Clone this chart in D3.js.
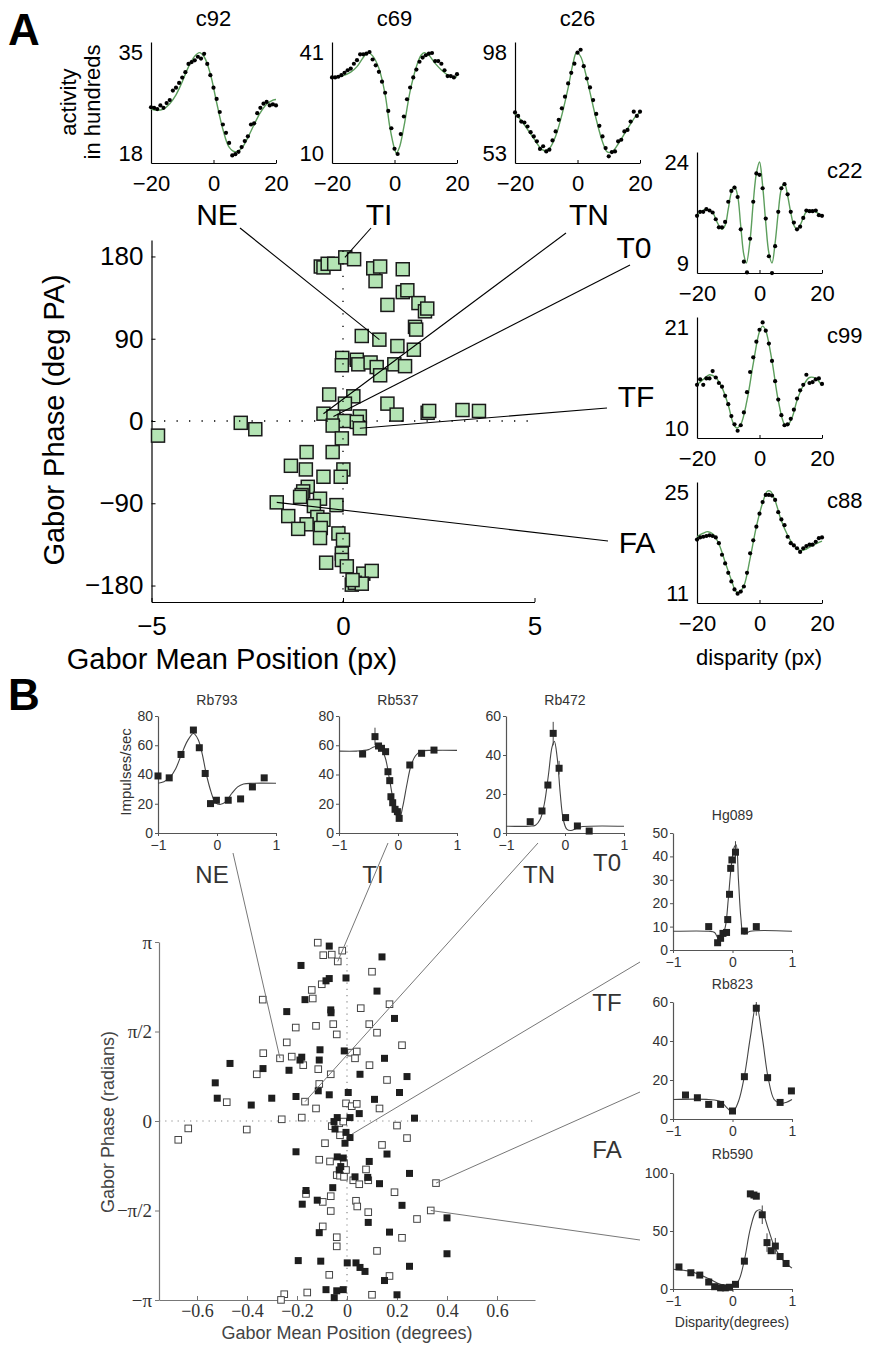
<!DOCTYPE html>
<html>
<head>
<meta charset="utf-8">
<script src="https://cdn.jsdelivr.net/npm/d3@7"></script>
<style>
  body { margin: 0; background: #fff; }
</style>
</head>
<body>
<svg id="fig" width="870" height="1349"></svg>
<script>
// ---------------- data : panel A tuning curves ----------------
const dispA = [-20,-19,-18,-17,-16,-15,-14,-13,-12,-11,-10,-9,-8,-7,-6,-5,-4,-3,-2,-1,0,1,2,3,4,5,6,7,8,9,10,11,12,13,14,15,16,17,18,19,20];

const c92Dots = [25.7,25.6,25.4,26.0,25.6,26.4,26.9,28.5,29.0,29.8,30.7,31.6,33.0,33.3,33.6,34.2,33.9,34.7,33.0,31.1,29.0,27.1,24.9,22.8,21.4,19.7,17.6,17.8,18.2,19.0,20.0,20.8,22.8,23.0,24.7,25.6,26.3,26.6,26.0,26.2,26.0];
const c92Fit = [[-20,25.4],[-18,25.2],[-16,25.4],[-14,26.3],[-12,27.8],[-10,30],[-8,32.5],[-6,34.3],[-4.5,34.9],[-3,34.2],[-1,31.3],[1,26.5],[3,22],[5,19],[7,18.2],[9,18.8],[11,20.6],[13,22.8],[15,24.8],[17,26.2],[19,26.9],[20,27]];

const c69Dots = [33.2,33.2,33.4,33.9,34.6,35.4,35.9,37.4,38.5,40.3,40.3,40.5,41.0,38.7,36.9,34.9,31.9,28.5,22.9,17.6,11.3,9.7,15.8,21.2,26.5,30.1,33.2,35.6,38.0,39.3,40.0,40.5,40.7,38.2,38.2,37.4,35.4,33.6,33.6,33.2,34.2];
const c69Fit = [[-20,33.2],[-17,33.5],[-14,34.8],[-12,36.5],[-10,39.3],[-8.5,40.8],[-7,39.8],[-5,36],[-3,28],[-1.5,18],[0,11.3],[0.6,10],[1.5,11.5],[3,18],[5,29],[7,36.5],[8.5,40],[9.5,40.8],[11,40],[13,37.5],[15,35.5],[17,34],[19,33.3],[20,33.4]];

const c26Dots = [71.1,69.5,67.0,66.6,64.8,62.3,60.4,58.2,54.8,56.0,53.7,54.5,58.6,62.6,67.8,72.9,78.1,84.0,88.7,92.8,97.7,99.0,91.7,86.2,82.2,76.6,70.4,65.1,60.4,55.2,51.5,53.4,53.7,58.2,58.9,62.6,63.3,67.0,71.4,69.5,71.4];
const c26Fit = [[-20,70.5],[-18,67.5],[-16,63.5],[-14,59.5],[-12,55.5],[-10.5,54],[-9,55],[-7,60.5],[-5,70],[-3,82],[-1.5,92.5],[-0.3,97.8],[1,96],[2.5,89],[4,80],[6,68],[8,58],[9.5,53.5],[11,53.5],[13,57],[15,61.5],[17,66],[19,70],[20,71]];

const c22Dots = [16.0,16.6,16.6,17.0,16.8,16.5,15.5,14.3,14.3,15.1,18.1,19.7,20.2,18.8,14.0,9.2,7.6,12.6,18.1,22.3,22.1,20.1,15.6,10.0,7.5,11.5,16.6,20.1,20.7,19.2,16.6,15.0,14.0,14.4,15.7,16.8,16.7,16.7,16.8,16.1,16.0];
const c22Fit = [[-20,16],[-19,16.5],[-17,17],[-15,16.5],[-13.5,15],[-12,14],[-11,14.6],[-10,17],[-9,19.5],[-8,20.4],[-7,19],[-6,14.5],[-5,10.2],[-4.2,9],[-3,12.5],[-2,18],[-1,22.3],[0,24],[1,20.5],[2,15],[3,10.5],[4,9],[5,12],[6,16.5],[7,20],[8,20.8],[9,19],[10,16.5],[11,14.6],[12,14],[13,14.6],[14,15.7],[15,16.6],[17,16.8],[19,16.3],[20,16]];

const c99Dots = [14.7,15.3,14.7,15.4,15.4,16.2,15.5,14.9,14.5,13.5,12.6,11.3,10.4,9.7,10.3,11.7,13.9,16.1,17.7,19.4,20.7,21.5,20.6,19.2,17.3,15.1,13.1,11.4,10.3,10.4,11.0,12.0,13.2,14.1,14.7,15.8,14.9,15.0,15.3,15.4,14.8];
const c99Fit = [[-20,14.7],[-18,15.3],[-16,15.8],[-14,15.5],[-12,14.4],[-10,12.5],[-8.5,10.6],[-7.3,10],[-6,10.4],[-4,13],[-2,17],[0,20.5],[1,21.1],[2,20.6],[4,17.3],[6,13],[8,10.4],[9,10.3],[10.5,11.2],[12,13],[14,14.6],[16,15.5],[18,15.4],[20,14.6]];

const c88Dots = [18.4,18.7,18.8,18.9,19.0,18.9,18.7,17.9,16.3,15.1,13.8,12.6,11.5,10.9,11.2,11.9,13.8,16.5,18.3,20.2,22.0,23.6,24.6,24.6,24.5,23.9,22.2,21.2,20.4,18.8,17.9,17.6,17.2,16.7,17.2,17.5,17.7,17.7,18.1,18.6,18.7];
const c88Fit = [[-20,18.8],[-18,19.3],[-16.5,19.5],[-15,19.2],[-13,17.8],[-11,15.3],[-9,12.8],[-7.5,11.2],[-6.5,11.1],[-5,12],[-3,15.8],[-1,20.2],[1,23.5],[2.5,25.1],[3.5,25.1],[5,23.8],[7,21],[9,19],[11,17.6],[13,16.9],[15,17.1],[17,17.6],[20,18.2]];

// ---------------- data : panel A scatter (px, deg) ----------------
const posA = [-4.83,-2.67,-2.29,-0.58,-0.51,-0.40,-0.23,0.06,-0.02,-0.03,-0.36,-0.51,-0.25,0.04,-0.27,-0.03,-0.95,-0.27,-1.36,-0.97,0.01,-0.06,-0.51,-0.92,-1.04,-1.08,-1.12,-1.73,-0.60,-0.76,-0.17,-1.43,-0.67,-0.51,-0.95,-1.17,-0.58,-0.60,-0.12,0.00,-0.03,-0.03,-0.44,0.10,0.23,
  0.29,0.79,0.97,0.85,1.56,1.56,1.68,1.16,1.97,2.14,2.20,1.88,1.91,0.49,0.95,1.42,1.85,0.36,0.40,0.72,0.88,0.97,1.34,1.62,0.27,0.05,1.16,1.40,2.21,2.25,3.12,3.55,0.44,0.36,0.44,0.53,0.75,0.31,0.49,0.25];
const phaseA = [-16,-2,-9,169,168,172,172,179,69,61,29,8,5,0,-5,-19,-34,-34,-49,-53,-53,-61,-61,-72,-77,-81,-83,-89,-85,-93,-92,-104,-105,-108,-113,-118,-117,-128,-123,-130,-145,-152,-155,-159,-179,
  177,167,169,153,166,141,143,127,129,120,123,103,100,93,89,82,78,67,62,64,59,50,62,60,27,19,19,7,9,11,12,11,5,-1,-8,-167,-164,-177,-178,-174];

const calloutNames = ["NE","TI","TN","T0","TF","FA"];
const calloutTargetsA = [[0.95,89],[0.05,179],[-0.51,8],[-0.25,5],[0.44,-8],[-1.73,-89]];

// ---------------- data : panel B tuning curves ----------------
const rb793Pts = [[-1,39],[-0.81,37.7],[-0.61,53.7],[-0.40,70.4],[-0.30,58.3],[-0.20,40.7],[-0.11,20.1],[-0.01,22.4],[0.19,22.4],[0.40,23.3],[0.60,31.5],[0.80,37.7]];
const rb793Fit = [[-1,34],[-0.9,35],[-0.8,38],[-0.7,44],[-0.6,54],[-0.5,63],[-0.4,68],[-0.32,64],[-0.25,54],[-0.18,40],[-0.1,28],[-0.03,21],[0.05,19.5],[0.15,21.5],[0.25,27],[0.35,31.5],[0.45,33.5],[0.6,34],[1,34]];
const rb793Err = [];

const rb537Pts = [[-0.6,54],[-0.39,65.9],[-0.33,59.5],[-0.28,57.9],[-0.21,55.6],[-0.17,41.9],[-0.14,35.8],[-0.12,24.8],[-0.09,20.7],[-0.05,16.2],[-0.01,14.6],[0.02,10],[0.2,46.5],[0.4,54.5],[0.61,56.7]];
const rb537Fit = [[-1,56],[-0.7,56],[-0.5,57],[-0.4,59],[-0.3,58],[-0.22,52],[-0.15,38],[-0.08,22],[-0.02,11],[0.02,9],[0.08,18],[0.15,33],[0.22,46],[0.3,53],[0.4,56],[0.6,56.5],[1,56.5]];
const rb537Err = [[-0.39,60,72]];

const rb472Pts = [[-0.59,5.8],[-0.39,11.3],[-0.29,24.6],[-0.2,51.1],[-0.1,33.2],[0.01,7.9],[0.21,3.6],[0.41,1]];
const rb472Fit = [[-1,3.5],[-0.6,3.5],[-0.5,4],[-0.42,7],[-0.35,15],[-0.28,30],[-0.22,44],[-0.18,47],[-0.13,38],[-0.08,20],[-0.03,7],[0.03,2],[0.1,1.3],[0.2,2.5],[0.3,3.3],[1,3.5]];
const rb472Err = [[-0.2,45,57],[-0.1,30,37]];

const hg089Pts = [[-0.40,10.0],[-0.25,3.1],[-0.2,5],[-0.16,7.1],[-0.1,7.5],[-0.08,13],[-0.05,23.8],[-0.03,34.9],[-0.01,38.5],[0.05,41.8],[0.2,8.1],[0.4,10]];
const hg089Fit = [[-1,8],[-0.4,8],[-0.3,7.5],[-0.24,5],[-0.18,5.5],[-0.12,10],[-0.07,22],[-0.02,36],[0.03,44],[0.06,45],[0.1,30],[0.14,14],[0.18,7],[0.22,7],[0.3,8],[1,8]];
const hg089Err = [[0.05,37,46.5]];

const rb823Pts = [[-0.79,12.3],[-0.59,10.9],[-0.4,7.5],[-0.2,7.5],[0,4.1],[0.2,21.7],[0.4,56.8],[0.59,21.2],[0.8,8.5],[0.99,14.4]];
const rb823Fit = [[-1,10],[-0.4,10],[-0.2,9],[-0.1,6],[0,3.5],[0.1,9],[0.2,22],[0.3,42],[0.4,59],[0.5,42],[0.6,21],[0.7,10],[0.8,8],[0.9,8.5],[1,10]];
const rb823Err = [[0.4,53,60]];

const rb590Pts = [[-0.9,19],[-0.7,14],[-0.55,12],[-0.4,6],[-0.3,2],[-0.2,1],[-0.12,1],[-0.05,1.5],[0.05,4],[0.2,24],[0.3,82],[0.36,81],[0.4,80],[0.5,64],[0.58,40],[0.65,33],[0.72,37],[0.8,28],[0.9,22]];
const rb590Fit = [[-1,17],[-0.7,15],[-0.4,9],[-0.2,4],[0,2.5],[0.1,7],[0.2,25],[0.3,52],[0.4,67],[0.48,68],[0.6,52],[0.7,37],[0.8,28],[0.9,22],[1,18]];
const rb590Err = [[0.5,56,72],[0.58,32,48],[0.72,30,44]];

// ---------------- data : panel B scatter (degrees, radians) ----------------
const openB = [[-0.117,3.13],[-0.095,2.91],[-0.061,2.92],[-0.019,2.99],[-0.037,2.80],[-0.101,2.40],[-0.141,2.30],[-0.137,2.15],[-0.337,2.13],[0.055,1.98],[0.089,1.70],[-0.205,1.64],[-0.124,1.67],[-0.055,1.70],[-0.041,1.52],[-0.241,1.38],[0.016,1.20],[0.039,1.22],[0.032,1.10],[-0.221,1.13],[-0.268,1.10],[-0.175,0.98],[-0.335,1.19],[-0.115,0.91],[-0.361,0.82],[-0.065,0.82],[-0.111,0.65],[-0.481,0.33],[-0.168,0.34],[-0.124,0.22],[-0.004,0.31],[0.019,0.26],[0.039,0.30],[-0.261,0.03],[-0.181,0.06],[-0.635,-0.13],[-0.675,-0.33],[-0.401,-0.15],[-0.061,-0.09],[-0.031,-0.04],[-0.015,-0.01],[-0.028,-0.25],[-0.088,-0.39],[-0.111,-0.68],[-0.068,-0.71],[-0.012,-0.74],[-0.004,-0.86],[-0.041,-0.95],[-0.028,-0.96],[-0.012,-0.98],[0.025,-1.04],[0.049,-1.11],[0.076,-0.85],[0.085,-1.04],[-0.164,-1.28],[-0.097,-1.42],[-0.065,-1.32],[-0.065,-1.58],[0.036,-1.40],[0.041,-1.50],[0.085,-1.60],[-0.097,-1.85],[-0.041,-2.04],[-0.041,-2.20],[-0.071,-2.70],[-0.159,-3.01],[-0.251,-3.04],[-0.264,-3.14],
  [0.10,2.62],[0.17,2.05],[0.12,1.55],[0.22,1.33],[0.09,0.98],[0.16,0.72],[0.13,0.22],[0.20,-0.08],[0.14,-0.42],[0.24,-0.30],[0.356,-1.09],[0.335,-1.57],[0.28,-1.72],[0.19,-1.25],[0.12,-2.28],[0.22,-2.05],[0.17,-2.72],[0.10,-3.05]];
const filledB = [[-0.071,3.07],[-0.184,2.73],[-0.004,2.51],[-0.071,2.50],[-0.084,2.46],[-0.168,2.13],[-0.241,1.92],[-0.065,1.95],[-0.064,1.90],[-0.011,1.23],[-0.108,1.25],[-0.181,1.12],[-0.188,1.07],[-0.111,1.07],[-0.468,1.01],[-0.336,0.92],[-0.232,0.89],[0.052,0.82],[-0.115,0.53],[-0.071,0.46],[-0.527,0.67],[-0.519,0.40],[-0.383,0.28],[-0.301,0.40],[-0.204,0.43],[0.005,0.50],[0.049,0.13],[-0.039,0.06],[0.012,0.06],[-0.052,-0.01],[-0.048,-0.14],[-0.004,-0.20],[0.012,-0.29],[-0.008,-0.39],[-0.204,-0.54],[-0.039,-0.63],[-0.015,-0.65],[-0.025,-0.80],[-0.031,-0.86],[0.032,-0.98],[0.083,-0.99],[0.089,-0.71],[-0.057,-1.17],[-0.164,-1.22],[-0.119,-1.39],[-0.179,-1.46],[0.085,-1.78],[-0.111,-1.96],[-0.195,-2.45],[-0.105,-2.46],[0.001,-2.49],[0.036,-2.49],[0.052,-2.57],[0.072,-2.64],[-0.084,-2.96],[-0.041,-2.98],[-0.015,-2.96],[-0.051,-3.10],
  [0.14,2.88],[0.12,2.28],[0.19,1.80],[0.15,1.10],[0.24,0.78],[0.11,0.38],[0.21,0.50],[0.27,0.05],[0.16,-0.58],[0.25,-0.92],[0.13,-1.10],[0.22,-1.48],[0.40,-1.70],[0.17,-1.95],[0.40,-2.33],[0.25,-2.55],[0.15,-2.80],[0.20,-3.05]];
const calloutTargetsB = [[-0.268,1.10],[-0.037,2.80],[-0.168,0.34],[0.02,-0.23],[0.356,-1.09],[0.335,-1.57]];

const phaseTicksB = [-Math.PI, -Math.PI/2, 0, Math.PI/2, Math.PI];
const phaseTickLabelsB = ["\u2212\u03c0", "\u2212\u03c0/2", "0", "\u03c0/2", "\u03c0"];
const posTicksB = [-0.6,-0.4,-0.2,0,0.2,0.4,0.6];
const posTickLabelsB = ["\u22120.6","\u22120.4","\u22120.2","0","0.2","0.4","0.6"];

// ---------------- drawing ----------------
const SANS = "'Liberation Sans', Arial, Helvetica, sans-serif";
const SERIF = "'Liberation Serif', 'Times New Roman', serif";

const svg = d3.select("#fig");
svg.append("rect").attr("width", 870).attr("height", 1349).attr("fill", "#fff");

function styleAxis(g, color, size, family, textColor) {
  g.attr("font-family", null).attr("font-size", null);
  g.select("path.domain").attr("stroke", color).attr("stroke-width", 1.2);
  g.selectAll(".tick line").attr("stroke", color);
  g.selectAll(".tick text")
    .attr("fill", textColor || "#000")
    .style("font-size", size + "px")
    .style("font-family", family);
}

function txt(x, y, s, size, opts) {
  opts = opts || {};
  return svg.append("text")
    .attr("x", x).attr("y", y)
    .attr("text-anchor", opts.anchor || "middle")
    .attr("fill", opts.fill || "#000")
    .style("font-family", opts.family || SANS)
    .style("font-size", size + "px")
    .style("font-weight", opts.weight || "normal")
    .text(s);
}

//********** panel A small plots **********//
function panelASub(p) {
  const pad = (p.yMax - p.yMin) * 10 / 101;
  const x = d3.scaleLinear().domain([-20, 20]).range([p.left, p.left + 125]);
  const y = d3.scaleLinear().domain([p.yMin - pad, p.yMax + pad]).range([p.top + 121, p.top]);

  const ya = svg.append("g").attr("transform", `translate(${p.left},0)`)
    .call(d3.axisLeft(y).tickValues([p.yMin, p.yMax]).tickSize(0).tickPadding(8).tickSizeOuter(0));
  styleAxis(ya, "#000", 22, SANS);
  const xa = svg.append("g").attr("transform", `translate(0,${p.top + 121})`)
    .call(d3.axisBottom(x).tickValues([-20, 0, 20]).tickSize(-3).tickPadding(12).tickSizeOuter(0));
  styleAxis(xa, "#000", 22, SANS);

  const line = d3.line().x(d => x(d[0])).y(d => y(d[1])).curve(d3.curveCatmullRom);
  svg.append("path").datum(p.fit)
    .attr("d", line)
    .attr("fill", "none")
    .attr("stroke", "#5c9e5c")
    .attr("stroke-width", 1.4);

  svg.append("g").selectAll("circle")
    .data(p.dots)
    .enter().append("circle")
    .attr("cx", (d, i) => x(dispA[i]))
    .attr("cy", d => y(d))
    .attr("r", 2.1)
    .attr("fill", "#000");

  if (p.side) txt(827, p.top + 26, p.title, 22, { anchor: "start" });
  else txt(p.left + 62.5, 26, p.title, 22);
}

panelASub({ left: 151, top: 42, yMin: 18, yMax: 35, dots: c92Dots, fit: c92Fit, title: "c92" });
panelASub({ left: 332, top: 42, yMin: 10, yMax: 41, dots: c69Dots, fit: c69Fit, title: "c69" });
panelASub({ left: 515, top: 42, yMin: 53, yMax: 98, dots: c26Dots, fit: c26Fit, title: "c26" });
panelASub({ left: 697, top: 152, yMin: 9, yMax: 24, dots: c22Dots, fit: c22Fit, title: "c22", side: true });
panelASub({ left: 697, top: 317, yMin: 10, yMax: 21, dots: c99Dots, fit: c99Fit, title: "c99", side: true });
panelASub({ left: 697, top: 482, yMin: 11, yMax: 25, dots: c88Dots, fit: c88Fit, title: "c88", side: true });

txt(0, 0, "activity", 22).attr("transform", "translate(76,102) rotate(-90)");
txt(0, 0, "in hundreds", 22).attr("transform", "translate(100,102) rotate(-90)");
txt(759, 665, "disparity (px)", 22);
txt(8, 45, "A", 44, { anchor: "start", weight: "bold" });

//********** panel A scatter **********//
const xA = d3.scaleLinear().domain([-5, 5]).range([151.5, 534.5]);
const yA = d3.scaleLinear().domain([-198, 198]).range([602, 240]);

const yAx = svg.append("g").attr("transform", "translate(151.5,0)")
  .call(d3.axisLeft(yA).tickValues([-180, -90, 0, 90, 180]).tickSize(-4).tickPadding(8).tickSizeOuter(0));
styleAxis(yAx, "#000", 26, SANS);
const xAx = svg.append("g").attr("transform", "translate(0,602)")
  .call(d3.axisBottom(xA).tickValues([-5, 0, 5]).tickSize(-4).tickPadding(15).tickSizeOuter(0));
styleAxis(xAx, "#000", 26, SANS);

txt(232, 669, "Gabor Mean Position (px)", 29);
txt(0, 0, "Gabor Phase (deg PA)", 29).attr("transform", "translate(64,420) rotate(-90)");

svg.append("g").selectAll("rect")
  .data(posA.map((d, i) => [d, phaseA[i]]))
  .enter().append("rect")
  .attr("x", d => xA(d[0]) - 6.5)
  .attr("y", d => yA(d[1]) - 6.5)
  .attr("width", 13).attr("height", 13)
  .attr("fill", "#b4e4b4")
  .attr("stroke", "#1a1a1a")
  .attr("stroke-width", 1.5);

// dotted zero lines
svg.append("line")
  .attr("x1", xA(-5)).attr("x2", xA(4.9)).attr("y1", yA(0)).attr("y2", yA(0))
  .attr("stroke", "#000").attr("stroke-width", 1.3).style("stroke-dasharray", "1.3,11.2");
svg.append("line")
  .attr("x1", xA(0)).attr("x2", xA(0)).attr("y1", yA(-198)).attr("y2", yA(198))
  .attr("stroke", "#000").attr("stroke-width", 1.3).style("stroke-dasharray", "1.3,11.2");

// callouts A
const calloutLayoutA = [
  { tx: 217, ty: 225, sx: 240, sy: 228 },
  { tx: 379, ty: 225, sx: 371, sy: 228 },
  { tx: 589, ty: 225, sx: 566, sy: 233 },
  { tx: 634, ty: 258, sx: 630, sy: 265 },
  { tx: 636, ty: 407, sx: 607, sy: 408 },
  { tx: 637, ty: 553, sx: 608, sy: 541 }
];
calloutNames.forEach((n, i) => {
  const L = calloutLayoutA[i], t = calloutTargetsA[i];
  svg.append("line")
    .attr("x1", L.sx).attr("y1", L.sy)
    .attr("x2", xA(t[0])).attr("y2", yA(t[1]))
    .attr("stroke", "#000").attr("stroke-width", 1.1);
  txt(L.tx, L.ty, n, 30);
});

//********** panel B small plots **********//
function panelBSub(p) {
  const x = d3.scaleLinear().domain([-1, 1]).range([p.left, p.right]);
  const y = d3.scaleLinear().domain([0, p.yMax]).range([p.bottom, p.top]);

  const ya = svg.append("g").attr("transform", `translate(${p.left},0)`)
    .call(d3.axisLeft(y).tickValues(p.yTicks).tickSize(3).tickPadding(2).tickSizeOuter(0));
  styleAxis(ya, "#555", 14, SANS, "#333");
  const xa = svg.append("g").attr("transform", `translate(0,${p.bottom})`)
    .call(d3.axisBottom(x).tickValues([-1, 0, 1]).tickFormat(d3.format("d")).tickSize(3).tickPadding(4).tickSizeOuter(0));
  styleAxis(xa, "#555", 14, SANS, "#333");

  const line = d3.line().x(d => x(d[0])).y(d => y(d[1])).curve(d3.curveCatmullRom);
  svg.append("path").datum(p.fit)
    .attr("d", line)
    .attr("fill", "none")
    .attr("stroke", "#444")
    .attr("stroke-width", 1.1);

  svg.append("g").selectAll("line")
    .data(p.err)
    .enter().append("line")
    .attr("x1", d => x(d[0])).attr("x2", d => x(d[0]))
    .attr("y1", d => y(d[1])).attr("y2", d => y(d[2]))
    .attr("stroke", "#444").attr("stroke-width", 1);

  svg.append("g").selectAll("rect")
    .data(p.pts)
    .enter().append("rect")
    .attr("x", d => x(d[0]) - 3.5)
    .attr("y", d => y(d[1]) - 3.5)
    .attr("width", 7).attr("height", 7)
    .attr("fill", "#222");

  txt((p.left + p.right) / 2, p.titleY, p.title, 14, { fill: "#333" });
}

panelBSub({ left: 158, right: 276, top: 716, bottom: 833, yMax: 80, yTicks: [0, 20, 40, 60, 80], pts: rb793Pts, fit: rb793Fit, err: rb793Err, title: "Rb793", titleY: 705 });
panelBSub({ left: 339, right: 457, top: 716, bottom: 833, yMax: 80, yTicks: [0, 20, 40, 60, 80], pts: rb537Pts, fit: rb537Fit, err: rb537Err, title: "Rb537", titleY: 705 });
panelBSub({ left: 506, right: 624, top: 716, bottom: 833, yMax: 60, yTicks: [0, 20, 40, 60], pts: rb472Pts, fit: rb472Fit, err: rb472Err, title: "Rb472", titleY: 705 });
panelBSub({ left: 673, right: 792, top: 833, bottom: 950, yMax: 50, yTicks: [0, 10, 20, 30, 40, 50], pts: hg089Pts, fit: hg089Fit, err: hg089Err, title: "Hg089", titleY: 820 });
panelBSub({ left: 673, right: 792, top: 1002, bottom: 1119, yMax: 60, yTicks: [0, 20, 40, 60], pts: rb823Pts, fit: rb823Fit, err: rb823Err, title: "Rb823", titleY: 989 });
panelBSub({ left: 673, right: 792, top: 1173, bottom: 1289, yMax: 100, yTicks: [0, 50, 100], pts: rb590Pts, fit: rb590Fit, err: rb590Err, title: "Rb590", titleY: 1159 });

txt(0, 0, "Impulses/sec", 15, { fill: "#333" }).attr("transform", "translate(131,772) rotate(-90)");
txt(732, 1327, "Disparity(degrees)", 14, { fill: "#333" });
txt(8, 710, "B", 44, { anchor: "start", weight: "bold" });

//********** panel B scatter **********//
const xB = d3.scaleLinear().domain([-0.752, 0.752]).range([159, 535]);
const yB = d3.scaleLinear().domain([-Math.PI, Math.PI]).range([1300, 942]);

// dotted zero lines
svg.append("line")
  .attr("x1", xB(-0.752)).attr("x2", xB(0.752)).attr("y1", yB(0)).attr("y2", yB(0))
  .attr("stroke", "#888").attr("stroke-width", 1.2).style("stroke-dasharray", "1.2,5");
svg.append("line")
  .attr("x1", xB(0)).attr("x2", xB(0)).attr("y1", yB(-Math.PI)).attr("y2", yB(Math.PI))
  .attr("stroke", "#888").attr("stroke-width", 1.2).style("stroke-dasharray", "1.2,5");

const yBx = svg.append("g").attr("transform", "translate(159,0)")
  .call(d3.axisLeft(yB).tickValues(phaseTicksB).tickFormat((d, i) => phaseTickLabelsB[i]).tickSize(4).tickPadding(3).tickSizeOuter(0));
styleAxis(yBx, "#777", 19, SERIF, "#333");
const xBx = svg.append("g").attr("transform", "translate(0,1300)")
  .call(d3.axisBottom(xB).tickValues(posTicksB).tickFormat((d, i) => posTickLabelsB[i]).tickSize(-4).tickPadding(4).tickSizeOuter(0));
styleAxis(xBx, "#777", 18, SERIF, "#333");

txt(347, 1339, "Gabor Mean Position (degrees)", 18, { fill: "#444" });
txt(0, 0, "Gabor Phase (radians)", 18, { fill: "#444" }).attr("transform", "translate(114,1122) rotate(-90)");

svg.append("g").selectAll("rect")
  .data(openB)
  .enter().append("rect")
  .attr("x", d => xB(d[0]) - 3.3)
  .attr("y", d => yB(d[1]) - 3.3)
  .attr("width", 6.6).attr("height", 6.6)
  .attr("fill", "#fff")
  .attr("stroke", "#444")
  .attr("stroke-width", 1);

svg.append("g").selectAll("rect")
  .data(filledB)
  .enter().append("rect")
  .attr("x", d => xB(d[0]) - 3.5)
  .attr("y", d => yB(d[1]) - 3.5)
  .attr("width", 7).attr("height", 7)
  .attr("fill", "#1e1e1e");

// callouts B
const calloutLayoutB = [
  { tx: 212, ty: 883, sx: 233, sy: 853 },
  { tx: 373, ty: 883, sx: 388, sy: 843 },
  { tx: 539, ty: 883, sx: 538, sy: 843 },
  { tx: 607, ty: 871, sx: 640, sy: 962 },
  { tx: 607, ty: 1011, sx: 640, sy: 1092 },
  { tx: 607, ty: 1158, sx: 640, sy: 1240 }
];
calloutNames.forEach((n, i) => {
  const L = calloutLayoutB[i], t = calloutTargetsB[i];
  svg.append("line")
    .attr("x1", L.sx).attr("y1", L.sy)
    .attr("x2", xB(t[0])).attr("y2", yB(t[1]))
    .attr("stroke", "#777").attr("stroke-width", 1);
  txt(L.tx, L.ty, n, 24, { fill: "#333" });
});
</script>
</body>
</html>
